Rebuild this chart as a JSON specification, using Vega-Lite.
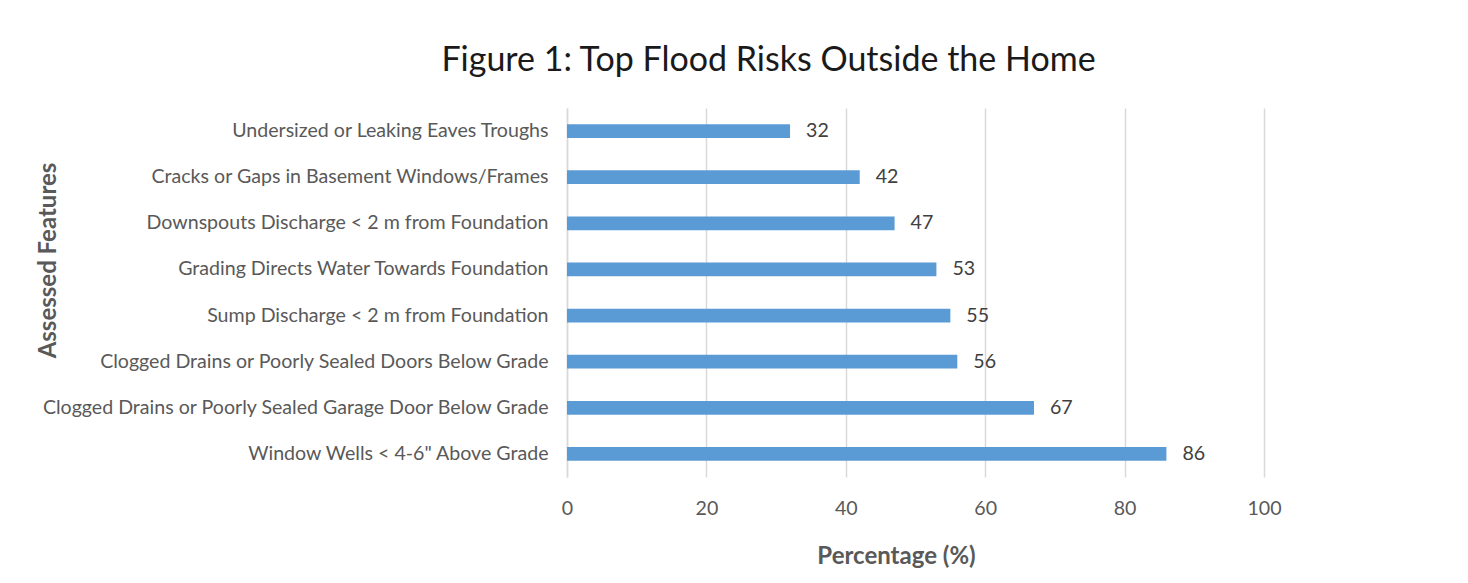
{
  "$schema": "https://vega.github.io/schema/vega-lite/v6.json",
  "width": 697,
  "height": 369,
  "autosize": "none",
  "padding": {"left": 567, "top": 108, "right": 204, "bottom": 106},
  "background": "#ffffff",
  "title": {
    "text": "Figure 1: Top Flood Risks Outside the Home",
    "anchor": "middle",
    "dx": -147,
    "offset": 30,
    "font": "Lato",
    "fontSize": 34,
    "fontWeight": "normal",
    "color": "#1a1a1a"
  },
  "data": {
    "values": [
      {"feature": "Undersized or Leaking Eaves Troughs", "pct": 32},
      {"feature": "Cracks or Gaps in Basement Windows/Frames", "pct": 42},
      {"feature": "Downspouts Discharge < 2 m  from Foundation", "pct": 47},
      {"feature": "Grading Directs Water Towards Foundation", "pct": 53},
      {"feature": "Sump Discharge < 2 m from Foundation", "pct": 55},
      {"feature": "Clogged Drains or Poorly Sealed Doors Below Grade", "pct": 56},
      {"feature": "Clogged Drains or Poorly Sealed Garage Door Below Grade", "pct": 67},
      {"feature": "Window Wells < 4-6\" Above Grade", "pct": 86}
    ]
  },
  "encoding": {
    "y": {
      "field": "feature",
      "type": "nominal",
      "sort": null,
      "scale": {"paddingInner": 0.7, "paddingOuter": 0.35},
      "axis": {
        "title": "Assessed Features",
        "titleFont": "Lato",
        "titleFontSize": 24,
        "titleFontWeight": "bold",
        "titleColor": "#595959",
        "titleAngle": -90,
        "titleAlign": "center",
        "titleBaseline": "middle",
        "titleX": -519,
        "titleY": 152,
        "labelFont": "Lato",
        "labelFontSize": 19.6,
        "labelColor": "#595959",
        "labelPadding": 19,
        "labelLimit": 700,
        "ticks": false,
        "domain": true,
        "domainColor": "#d9d9d9",
        "domainWidth": 1.5,
        "grid": false
      }
    },
    "x": {
      "field": "pct",
      "type": "quantitative",
      "scale": {"domain": [0, 100], "nice": false},
      "axis": {
        "title": "Percentage (%)",
        "titleFont": "Lato",
        "titleFontSize": 24,
        "titleFontWeight": "bold",
        "titleColor": "#595959",
        "titleAnchor": "start",
        "titleAlign": "center",
        "titleBaseline": "middle",
        "titleX": 329,
        "titleY": 79,
        "values": [0, 20, 40, 60, 80, 100],
        "labelFont": "Lato",
        "labelFontSize": 19.6,
        "labelColor": "#595959",
        "labelBaseline": "middle",
        "labelAlign": "center",
        "labelFlush": false,
        "labelPadding": 31,
        "ticks": false,
        "domain": false,
        "grid": true,
        "gridColor": "#d9d9d9",
        "gridWidth": 1.5
      }
    }
  },
  "layer": [
    {
      "mark": {"type": "bar", "color": "#5b9bd5"}
    },
    {
      "mark": {
        "type": "text",
        "align": "left",
        "baseline": "middle",
        "dx": 16,
        "font": "Lato",
        "fontSize": 19.6,
        "color": "#404040"
      },
      "encoding": {"text": {"field": "pct", "type": "quantitative"}}
    }
  ],
  "config": {"view": {"stroke": null}}
}
